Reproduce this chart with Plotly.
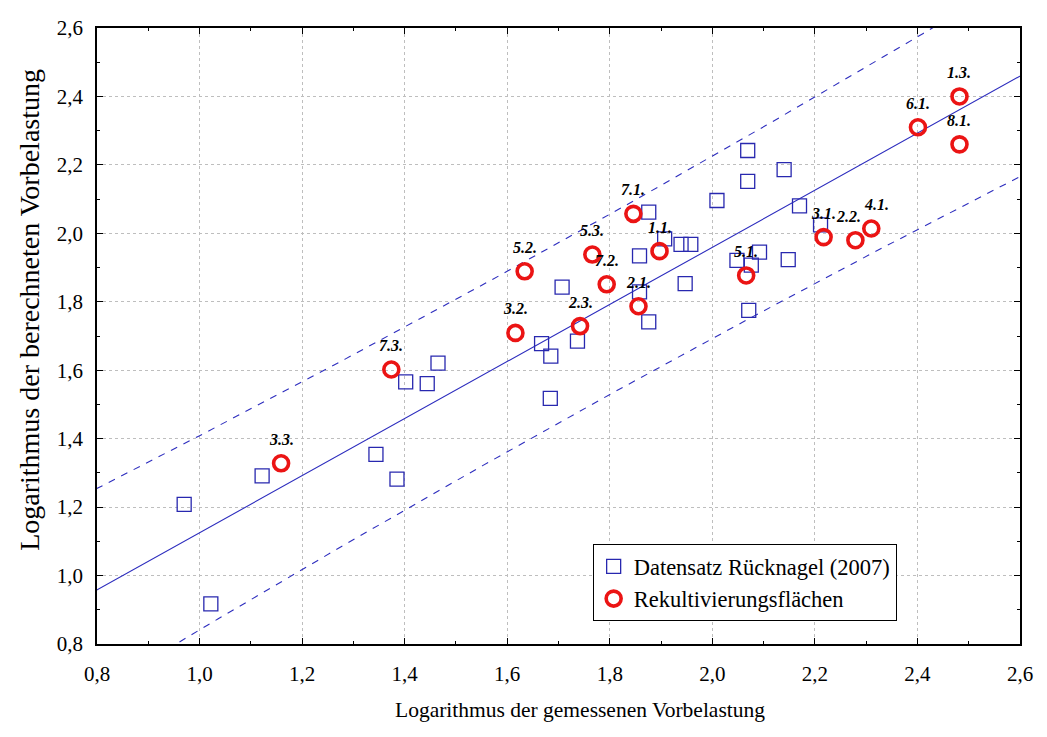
import numpy as np
import plotly.graph_objects as go

# --- Data: Datensatz Rücknagel (2007) ---
ruck_x = [0.970, 1.022, 1.122, 1.344, 1.385, 1.402, 1.444, 1.465, 1.707, 1.667,
          1.685, 1.737, 1.684, 1.876, 1.858, 1.858, 1.876, 1.907, 1.939, 1.958,
          1.947, 2.009, 2.069, 2.069, 2.048, 2.071, 2.140, 2.170, 2.211, 2.076,
          2.092, 2.148]
ruck_y = [1.208, 0.917, 1.291, 1.354, 1.282, 1.566, 1.561, 1.621, 1.843, 1.678,
          1.641, 1.685, 1.518, 2.062, 1.934, 1.829, 1.741, 1.984, 1.968, 1.968,
          1.853, 2.096, 2.242, 2.152, 1.921, 1.775, 2.186, 2.080, 2.025, 1.907,
          1.945, 1.923]

# --- Data: Rekultivierungsflächen ---
rek_labels = ["1.3.", "6.1.", "8.1.", "7.1.", "5.3.", "5.2.", "1.1.", "7.2.", "2.1.",
              "3.2.", "2.3.", "3.1.", "2.2.", "4.1.", "5.1.", "3.3.", "7.3."]
rek_x = [2.482, 2.401, 2.482, 1.846, 1.766, 1.634, 1.897, 1.794, 1.856,
         1.616, 1.742, 2.217, 2.279, 2.310, 2.066, 1.159, 1.374]
rek_y = [2.400, 2.310, 2.260, 2.057, 1.938, 1.889, 1.948, 1.851, 1.787,
         1.709, 1.729, 1.989, 1.980, 2.014, 1.877, 1.328, 1.602]

# --- Regression line and prediction band parameters ---
fit_intercept = 0.291
fit_slope = 0.834
band_a = 0.263
band_center = 1.72
band_b = 0.315

x_range = [0.8, 2.6]
y_range = [0.8, 2.6]
tick_vals = [0.8, 1.0, 1.2, 1.4, 1.6, 1.8, 2.0, 2.2, 2.4, 2.6]
tick_text = ["0,8", "1,0", "1,2", "1,4", "1,6", "1,8", "2,0", "2,2", "2,4", "2,6"]

x_title = "Logarithmus der gemessenen Vorbelastung"
y_title = "Logarithmus der berechneten Vorbelastung"

# label nudges (pixels) to keep crowded labels readable
label_dx = {"2.2.": -7, "4.1.": 5}

xs = np.linspace(x_range[0] - 0.05, x_range[1] + 0.05, 200)
fit = fit_intercept + fit_slope * xs
half = band_a * np.sqrt(1 + band_b * (xs - band_center) ** 2)

line_col = "rgb(45,45,190)"
sq_col = "rgb(40,40,175)"
red = "rgb(235,20,20)"
serif = "Liberation Serif, Times New Roman, DejaVu Serif, serif"

fig = go.Figure()
fig.add_trace(go.Scatter(x=xs, y=fit, mode="lines", line=dict(color=line_col, width=1.1),
                         showlegend=False, hoverinfo="skip"))
fig.add_trace(go.Scatter(x=xs, y=fit + half, mode="lines",
                         line=dict(color=line_col, width=1.1, dash="7px,7px"),
                         showlegend=False, hoverinfo="skip"))
fig.add_trace(go.Scatter(x=xs, y=fit - half, mode="lines",
                         line=dict(color=line_col, width=1.1, dash="7px,7px"),
                         showlegend=False, hoverinfo="skip"))
fig.add_trace(go.Scatter(x=ruck_x, y=ruck_y, mode="markers",
                         name="Datensatz Rücknagel (2007)",
                         marker=dict(symbol="square-open", size=14, color=sq_col,
                                     line=dict(width=1.3, color=sq_col))))
fig.add_trace(go.Scatter(x=rek_x, y=rek_y, mode="markers",
                         name="Rekultivierungsflächen",
                         marker=dict(symbol="circle-open", size=15, color=red,
                                     line=dict(width=3.6, color=red))))

for lx, ly, lt in zip(rek_x, rek_y, rek_labels):
    fig.add_annotation(x=lx, y=ly, text="<b><i>" + lt + "</i></b>", showarrow=False,
                       yshift=24, xshift=label_dx.get(lt, 0),
                       font=dict(family=serif, size=16, color="black"))

# axis titles placed as in the reference
fig.add_annotation(xref="paper", yref="paper", x=0.523, y=-0.107, text=x_title,
                   xanchor="center", yanchor="middle",
                   showarrow=False, font=dict(family=serif, size=21.5, color="black"))
fig.add_annotation(xref="paper", yref="paper", x=-0.074, y=0.542, text=y_title,
                   xanchor="center", yanchor="middle",
                   textangle=-90, showarrow=False,
                   font=dict(family=serif, size=28, color="black"))

axis_common = dict(
    tickvals=tick_vals, ticktext=tick_text, ticks="inside", ticklen=6, tickwidth=1,
    tickcolor="black", showline=True, linecolor="black", linewidth=1.5, mirror="ticks",
    showgrid=True, gridcolor="rgb(190,190,190)", griddash="dot", gridwidth=1,
    zeroline=False, tickfont=dict(family=serif, size=21, color="black"),
    minor=dict(dtick=0.1, tick0=0.8, ticks="inside", ticklen=3, tickcolor="black",
               showgrid=False),
)

fig.update_xaxes(range=x_range, **axis_common, ticklabelstandoff=10)
fig.update_yaxes(range=y_range, **axis_common, ticklabelstandoff=8)

fig.update_layout(
    width=1047, height=737,
    margin=dict(l=97, r=27, t=28, b=93, autoexpand=False),
    paper_bgcolor="white", plot_bgcolor="white",
    legend=dict(x=0.537, y=0.162, xanchor="left", yanchor="top",
                bgcolor="white", bordercolor="black", borderwidth=1,
                font=dict(family=serif, size=22.5, color="black"),
                tracegroupgap=0, itemwidth=30),
    showlegend=True,
)

fig.write_html("out.html", config={"displayModeBar": False},
               post_script="document.body.style.margin='0';")
